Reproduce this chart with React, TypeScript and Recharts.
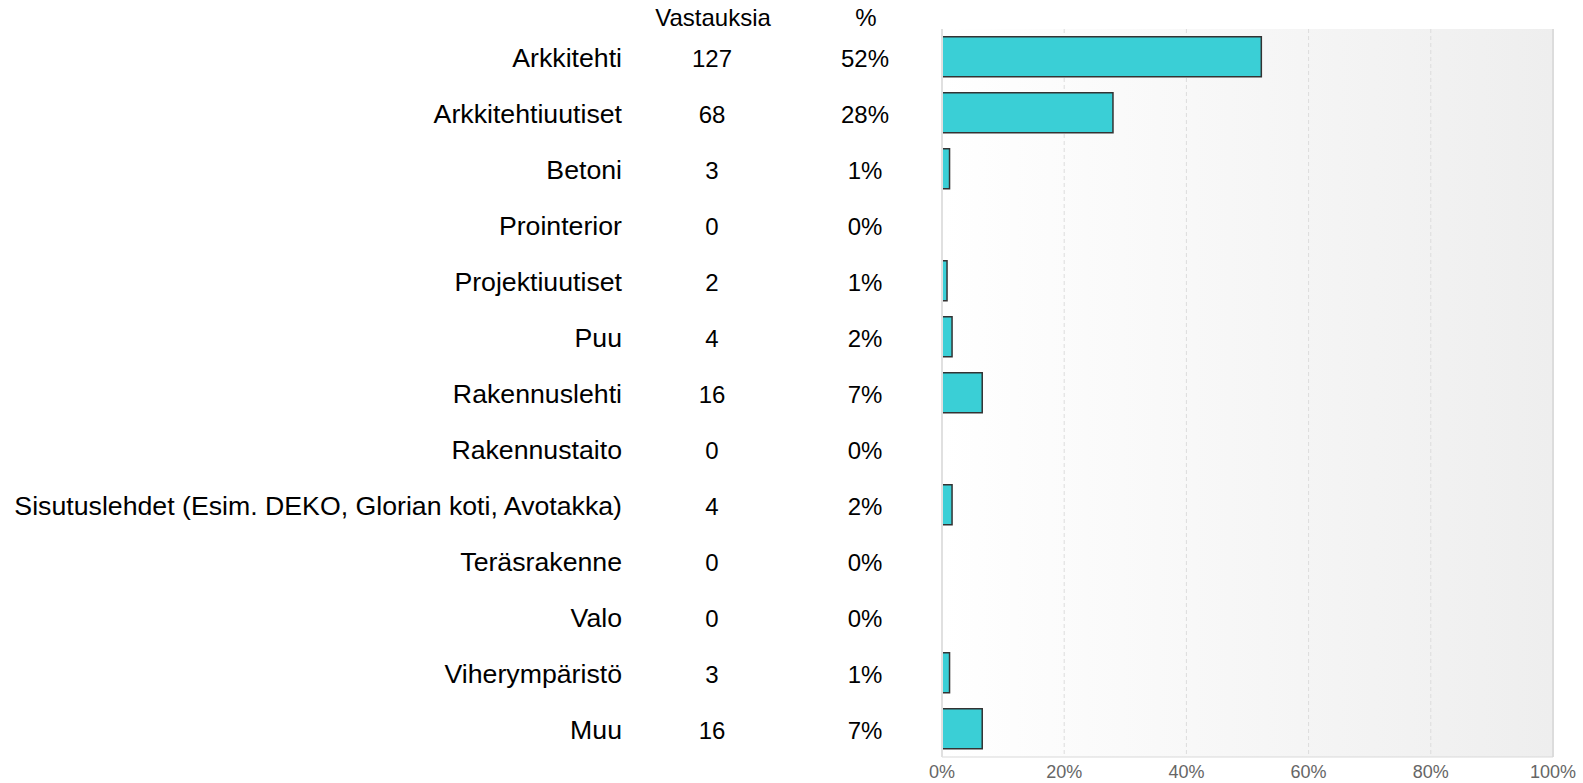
import { BarChart, Bar, XAxis, YAxis, CartesianGrid, ReferenceLine } from "recharts";

const categories = [
  "Arkkitehti",
  "Arkkitehtiuutiset",
  "Betoni",
  "Prointerior",
  "Projektiuutiset",
  "Puu",
  "Rakennuslehti",
  "Rakennustaito",
  "Sisutuslehdet (Esim. DEKO, Glorian koti, Avotakka)",
  "Teräsrakenne",
  "Valo",
  "Viherympäristö",
  "Muu",
];
const answers = [127, 68, 3, 0, 2, 4, 16, 0, 4, 0, 0, 3, 16];
const xTicks = [0, 20, 40, 60, 80, 100];

const total = answers.reduce((a, b) => a + b, 0);
const data = categories.map((name, i) => ({
  name,
  count: answers[i],
  pct: (answers[i] / total) * 100,
}));

const FONT = "Arial, 'Liberation Sans', sans-serif";

// category label + the two table columns drawn in one tick
function RowTick(props: any) {
  const { y, payload } = props;
  const row = data[payload.index];
  const common = { fontFamily: FONT, fill: "#000", dominantBaseline: "central" as const };
  return (
    <g>
      <text x={622} y={y + 1} textAnchor="end" fontSize={26.7} {...common}>
        {row.name}
      </text>
      <text x={712} y={y + 1} textAnchor="middle" fontSize={24} {...common}>
        {row.count}
      </text>
      <text x={865} y={y + 1} textAnchor="middle" fontSize={24} {...common}>
        {Math.round(row.pct)}%
      </text>
    </g>
  );
}

export default function App() {
  const head = { position: "absolute" as const, top: 6, fontFamily: FONT, fontSize: 24, lineHeight: "24px", transform: "translateX(-50%)" };
  return (
    <div style={{ position: "absolute", left: 0, top: 0, width: 1583, height: 783, background: "#fff" }}>
      <div style={{ ...head, left: 713 }}>Vastauksia</div>
      <div style={{ ...head, left: 866 }}>%</div>
      <BarChart
        width={1583}
        height={783}
        data={data}
        layout="vertical"
        margin={{ top: 29, right: 30, left: 0, bottom: 0 }}
        barCategoryGap="14%"
      >
        <defs>
          <linearGradient id="bgGrad" x1="0" y1="0" x2="1" y2="0">
            <stop offset="0%" stopColor="#ffffff" />
            <stop offset="100%" stopColor="#eeeeee" />
          </linearGradient>
        </defs>
        <CartesianGrid
          horizontal={false}
          strokeDasharray="4 3"
          stroke="#dcdcdc"
          fill="url(#bgGrad)"
        />
        <XAxis
          type="number"
          domain={[0, 100]}
          ticks={xTicks}
          tickFormatter={(v) => `${v}%`}
          axisLine={{ stroke: "#d9d9d9" }}
          tickLine={false}
          tick={{ fill: "#666", fontSize: 18, fontFamily: FONT }}
          height={26}
          interval={0}
        />
        <YAxis
          type="category"
          dataKey="name"
          width={942}
          axisLine={{ stroke: "#e0e0e0", strokeWidth: 2 }}
          tickLine={false}
          tick={<RowTick />}
          interval={0}
        />
        <ReferenceLine x={100} stroke="#dcdcdc" strokeWidth={2} />
        <Bar dataKey="pct" fill="#3acfd6" stroke="#333" strokeWidth={1.5} isAnimationActive={false} />
      </BarChart>
    </div>
  );
}
